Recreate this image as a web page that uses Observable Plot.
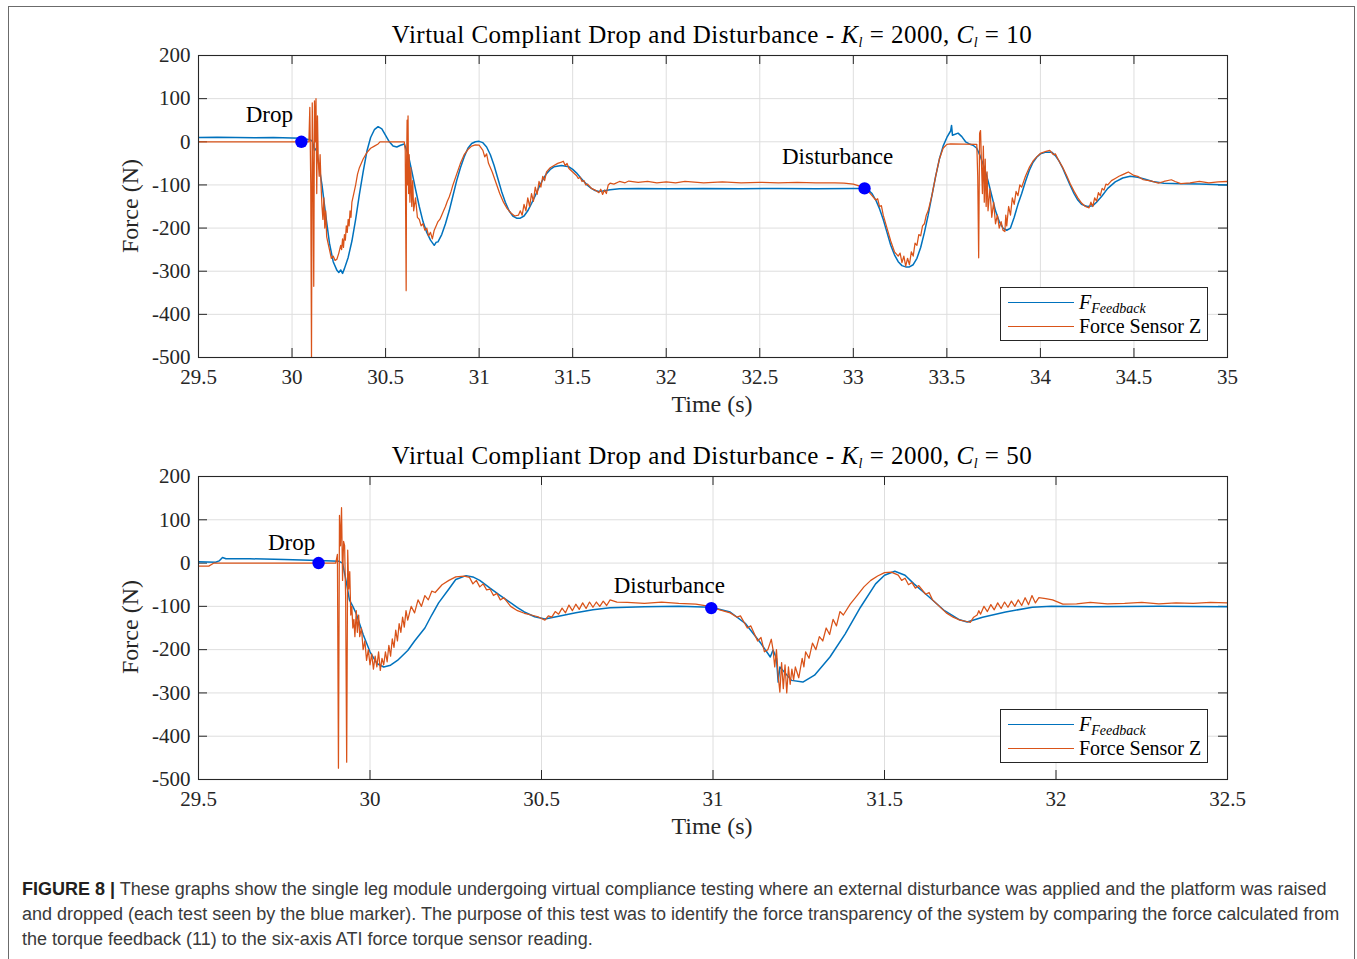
<!DOCTYPE html>
<html><head><meta charset="utf-8">
<script src="https://cdn.jsdelivr.net/npm/d3@7"></script>
<script src="https://cdn.jsdelivr.net/npm/@observablehq/plot@0.6"></script>
<style>
html,body{margin:0;padding:0;background:#fff;}
body{width:1357px;height:959px;overflow:hidden;position:relative;font-family:"Liberation Serif",serif;}
#frame{position:absolute;left:8px;top:6px;width:1347px;height:990px;border:1.5px solid #6b6b6b;box-sizing:border-box;}
.chart{position:absolute;left:0;width:1357px;height:420px;}
.chart svg{position:absolute;left:0;top:0;}
.title{position:absolute;left:0;width:1424px;text-align:center;font-size:25px;line-height:25px;color:#000;letter-spacing:0.5px;white-space:nowrap;}
.xlabel{position:absolute;left:0;width:1424px;text-align:center;font-size:24px;line-height:24px;color:#262626;white-space:nowrap;}
.ylabel{position:absolute;font-size:24px;line-height:24px;color:#262626;white-space:nowrap;transform:translate(-50%,-50%) rotate(-90deg);}
.legend{position:absolute;left:1000px;width:208px;height:54px;border:1px solid #262626;background:#fff;box-sizing:border-box;}
.legend .ln{position:absolute;left:7px;width:66px;height:0;border-top:1.3px solid;}
.legend .tx{position:absolute;left:78px;font-size:20px;line-height:20px;color:#000;white-space:nowrap;}
i{font-style:italic;}
sub{font-size:14px;vertical-align:-4px;line-height:0;}
.cap{position:absolute;left:22px;font-family:"Liberation Sans",sans-serif;font-size:18px;line-height:18px;color:#3a3a3a;white-space:nowrap;}
.cap b{color:#231f20;}
</style></head>
<body>
<div id="frame"></div>
<div class="chart" id="c1" style="top:0px"></div>
<div class="chart" id="c2" style="top:421px"></div>
<div class="cap" style="top:880px"><b>FIGURE 8 |</b> These graphs show the single leg module undergoing virtual compliance testing where an external disturbance was applied and the platform was raised</div>
<div class="cap" style="top:905px">and dropped (each test seen by the blue marker). The purpose of this test was to identify the force transparency of the system by comparing the force calculated from</div>
<div class="cap" style="top:930px">the torque feedback (11) to the six-axis ATI force torque sensor reading.</div>
<script>
// ---------- DATA ----------
const yTicks = [-500, -400, -300, -200, -100, 0, 100, 200];
const xTicksTop = [29.5, 30, 30.5, 31, 31.5, 32, 32.5, 33, 33.5, 34, 34.5, 35];
const xTicksBottom = [29.5, 30, 30.5, 31, 31.5, 32, 32.5];
const seriesNames = ["F_Feedback", "Force Sensor Z"];

// Top chart (K_l = 2000, C_l = 10): [time s, force N]
const feedbackC10 = [
[29.5,10],[29.6,10.5],[29.7,10],[29.8,9.5],[29.9,10],[30.0,9],[30.05,8],[30.08,6],[30.1,4],[30.11,0],[30.12,-20],[30.13,-15],[30.14,-45],
[30.16,-100],[30.18,-170],[30.2,-235],[30.22,-278],[30.24,-298],[30.25,-303],[30.26,-297],[30.27,-305],[30.28,-294],[30.30,-268],[30.32,-230],
[30.34,-180],[30.36,-122],[30.38,-70],[30.40,-22],[30.42,10],[30.44,28],[30.46,35],[30.48,30],[30.50,15],[30.52,0],[30.54,-10],[30.56,-12],
[30.58,-8],[30.60,-5],[30.62,-28],[30.64,-68],[30.66,-110],[30.68,-150],[30.70,-185],[30.72,-210],[30.74,-228],[30.76,-240],[30.77,-233],
[30.78,-232],[30.80,-215],[30.82,-190],[30.84,-160],[30.86,-125],[30.88,-90],[30.90,-60],[30.92,-35],[30.94,-15],[30.96,-4],[30.98,0],[31.00,1],
[31.02,-2],[31.04,-12],[31.06,-30],[31.08,-55],[31.10,-85],[31.12,-115],[31.14,-140],[31.16,-160],[31.18,-172],[31.20,-177],[31.22,-177],
[31.24,-172],[31.26,-160],[31.28,-143],[31.30,-125],[31.32,-105],[31.34,-88],[31.36,-74],[31.38,-64],[31.40,-58],[31.44,-55],[31.48,-58],
[31.50,-64],[31.52,-72],[31.54,-82],[31.56,-92],[31.58,-101],[31.60,-108],[31.62,-113],[31.64,-115],[31.66,-114],[31.70,-111],[31.75,-109],
[31.85,-108],[32.0,-109],[32.2,-108],[32.4,-109],[32.6,-108],[32.8,-109],[33.0,-108],[33.06,-108],
[33.08,-112],[33.10,-120],[33.12,-135],[33.14,-155],[33.16,-180],[33.18,-210],[33.20,-240],[33.22,-262],[33.24,-278],[33.26,-287],[33.28,-290],
[33.30,-290],[33.32,-285],[33.34,-270],[33.36,-245],[33.38,-210],[33.40,-170],[33.42,-125],[33.44,-80],[33.46,-40],[33.48,-10],[33.50,10],
[33.52,25],[33.525,38],[33.53,15],[33.56,20],[33.58,12],[33.60,0],[33.62,-5],[33.64,-8],[33.66,-15],[33.68,-35],[33.70,-60],[33.72,-90],
[33.74,-125],[33.76,-160],[33.78,-185],[33.80,-200],[33.82,-205],[33.84,-200],[33.86,-175],[33.88,-145],[33.90,-120],[33.92,-92],[33.94,-67],
[33.96,-48],[33.98,-36],[34.0,-28],[34.03,-24],[34.06,-24],[34.08,-32],[34.10,-45],[34.12,-62],[34.14,-82],[34.16,-102],[34.18,-120],
[34.20,-135],[34.22,-145],[34.25,-150],[34.28,-148],[34.30,-140],[34.33,-125],[34.36,-108],[34.40,-93],[34.44,-84],[34.48,-80],[34.52,-82],
[34.56,-87],[34.60,-92],[34.66,-96],[34.75,-97],[34.85,-98],[35.0,-100]
];
const sensorC10 = [
[29.5,0],[30.09,0],[30.095,80],[30.10,-100],[30.104,-500],[30.108,90],[30.112,-50],[30.116,-335],[30.12,95],[30.124,0],[30.128,100],
[30.132,-120],[30.136,60],[30.14,-40],[30.145,-80],[30.15,-30],[30.155,-100],[30.16,-150],[30.165,-180],[30.17,-130],[30.175,-200],[30.18,-160],
[30.185,-220],[30.19,-230],[30.20,-250],[30.21,-270],[30.22,-265],[30.23,-275],[30.24,-272],[30.25,-258],[30.26,-240],[30.265,-250],[30.27,-225],
[30.275,-245],[30.28,-215],[30.285,-228],[30.29,-195],[30.295,-210],[30.30,-180],[30.305,-195],[30.31,-160],[30.315,-175],[30.32,-140],
[30.33,-120],[30.34,-100],[30.35,-75],[30.36,-60],[30.38,-40],[30.40,-25],[30.42,-15],[30.44,-10],[30.46,-5],[30.47,0],[30.60,0],
[30.605,-20],[30.61,-345],[30.612,-60],[30.615,50],[30.618,-100],[30.62,60],[30.623,-120],[30.626,-30],[30.63,-140],[30.635,-60],[30.64,-150],
[30.645,-90],[30.65,-160],[30.66,-130],[30.67,-175],[30.68,-180],[30.69,-195],[30.70,-190],[30.71,-205],[30.72,-200],[30.73,-218],[30.74,-210],
[30.75,-225],[30.76,-205],[30.77,-195],[30.78,-185],[30.79,-180],[30.80,-170],[30.81,-160],[30.82,-150],[30.83,-138],[30.84,-128],[30.85,-115],
[30.86,-100],[30.88,-75],[30.90,-50],[30.92,-30],[30.94,-18],[30.96,-10],[30.98,-7],[31.00,-8],[31.02,-20],[31.03,-35],[31.04,-28],[31.05,-50],
[31.07,-70],[31.09,-95],[31.11,-120],[31.13,-140],[31.15,-155],[31.17,-165],[31.19,-172],[31.21,-170],[31.22,-160],[31.23,-170],[31.24,-145],
[31.25,-160],[31.26,-130],[31.27,-150],[31.28,-120],[31.29,-138],[31.30,-105],[31.31,-122],[31.32,-92],[31.33,-105],[31.34,-80],[31.35,-90],
[31.36,-70],[31.38,-60],[31.40,-55],[31.42,-50],[31.44,-47],[31.45,-45],[31.46,-55],[31.47,-50],[31.48,-62],[31.50,-70],[31.52,-78],[31.53,-85],
[31.54,-82],[31.55,-92],[31.56,-90],[31.57,-100],[31.58,-98],[31.60,-108],[31.62,-112],[31.64,-118],[31.65,-110],[31.66,-122],[31.67,-112],
[31.68,-120],[31.69,-100],[31.70,-96],[31.72,-98],[31.75,-92],[31.78,-95],[31.80,-91],[31.85,-94],[31.9,-92],[31.95,-95],[32.0,-93],[32.05,-95],
[32.1,-92],[32.2,-95],[32.3,-93],[32.4,-95],[32.5,-94],[32.6,-95],[32.7,-94],[32.8,-95],[32.9,-95],[32.95,-96],[33.0,-98],[33.03,-102],[33.06,-108],
[33.08,-115],[33.10,-125],[33.12,-135],[33.13,-132],[33.14,-150],[33.15,-148],[33.16,-170],[33.18,-200],[33.20,-230],[33.22,-255],[33.24,-265],
[33.25,-258],[33.26,-280],[33.27,-265],[33.28,-288],[33.29,-270],[33.30,-285],[33.31,-255],[33.32,-265],[33.33,-235],[33.34,-240],[33.35,-215],
[33.36,-218],[33.37,-195],[33.38,-190],[33.39,-170],[33.40,-160],[33.42,-125],[33.44,-80],[33.46,-40],[33.48,-15],[33.50,-6],[33.52,-5],
[33.66,-6],[33.665,-80],[33.67,-269],[33.675,20],[33.68,26],[33.685,-50],[33.69,-120],[33.695,-10],[33.70,-140],[33.705,-40],[33.71,-150],
[33.715,-70],[33.72,-160],[33.73,-110],[33.74,-175],[33.75,-140],[33.76,-190],[33.77,-170],[33.78,-200],[33.79,-185],[33.80,-205],[33.81,-208],
[33.815,-170],[33.82,-195],[33.83,-150],[33.84,-170],[33.85,-130],[33.86,-145],[33.87,-115],[33.88,-125],[33.89,-100],[33.90,-105],[33.92,-80],
[33.94,-60],[33.96,-45],[33.98,-35],[34.00,-27],[34.03,-22],[34.05,-20],[34.07,-30],[34.08,-28],[34.10,-45],[34.12,-60],[34.14,-78],[34.16,-98],
[34.18,-115],[34.20,-130],[34.22,-142],[34.24,-150],[34.26,-153],[34.27,-140],[34.28,-150],[34.29,-130],[34.30,-138],[34.31,-118],[34.32,-125],
[34.33,-108],[34.34,-112],[34.35,-98],[34.36,-100],[34.38,-90],[34.40,-85],[34.42,-80],[34.44,-76],[34.46,-72],[34.47,-70],[34.50,-78],
[34.52,-80],[34.55,-88],[34.58,-90],[34.60,-92],[34.63,-96],[34.66,-92],[34.70,-88],[34.72,-92],[34.75,-97],[34.80,-95],[34.85,-92],[34.9,-95],
[34.95,-93],[35.0,-92]
];
// Bottom chart (K_l = 2000, C_l = 50): [time s, force N]
const feedbackC50 = [
[29.5,3],[29.55,2],[29.56,5],[29.57,13],[29.58,10],[29.65,10],[29.75,8],[29.85,6],[29.91,4],[29.92,0],[29.93,-40],[29.94,-85],[29.95,-100],
[29.96,-117],[29.98,-165],[30.00,-205],[30.02,-232],[30.04,-240],[30.06,-236],[30.08,-225],[30.11,-202],[30.13,-180],[30.16,-150],[30.18,-120],
[30.20,-92],[30.23,-60],[30.25,-38],[30.28,-29],[30.30,-32],[30.32,-40],[30.35,-58],[30.38,-75],[30.40,-86],[30.43,-103],[30.45,-113],
[30.48,-124],[30.51,-129],[30.55,-123],[30.60,-115],[30.65,-108],[30.70,-103],[30.80,-101],[30.90,-100],[30.995,-102],
[31.05,-113],[31.095,-140],[31.14,-186],[31.167,-217],[31.175,-201],[31.185,-220],[31.19,-275],[31.195,-240],[31.229,-271],[31.262,-275],
[31.296,-259],[31.341,-217],[31.385,-164],[31.43,-102],[31.474,-48],[31.50,-28],[31.53,-19],[31.56,-28],[31.586,-48],[31.631,-79],[31.675,-110],
[31.719,-131],[31.741,-136],[31.786,-125],[31.853,-113],[31.931,-102],[31.987,-100],[32.1,-101],[32.3,-100],[32.5,-101]
];
const sensorC50 = [
[29.5,-7],[29.53,-7],[29.545,0],[29.9,0],[29.905,20],[29.908,-474],[29.911,110],[29.914,40],[29.917,128],[29.92,-40],[29.923,50],[29.926,40],
[29.929,-80],[29.932,-460],[29.935,30],[29.938,-60],[29.941,-20],[29.944,-120],[29.947,-100],[29.95,-150],[29.953,-130],[29.956,-170],[29.96,-110],
[29.963,-160],[29.967,-120],[29.97,-170],[29.975,-150],[29.98,-200],[29.985,-180],[29.99,-225],[29.995,-200],[30.0,-235],[30.005,-210],[30.01,-245],
[30.015,-215],[30.02,-240],[30.025,-205],[30.03,-248],[30.035,-220],[30.04,-235],[30.045,-205],[30.05,-228],[30.055,-190],[30.06,-215],
[30.065,-175],[30.07,-195],[30.075,-155],[30.08,-180],[30.085,-140],[30.09,-160],[30.095,-125],[30.10,-148],[30.105,-110],[30.11,-132],
[30.12,-100],[30.13,-115],[30.14,-85],[30.15,-100],[30.16,-75],[30.17,-85],[30.18,-65],[30.19,-68],[30.21,-50],[30.23,-40],[30.25,-32],
[30.275,-30],[30.29,-33],[30.30,-48],[30.31,-40],[30.32,-55],[30.33,-48],[30.34,-62],[30.35,-60],[30.36,-75],[30.37,-70],[30.38,-85],[30.39,-80],
[30.41,-100],[30.43,-110],[30.45,-116],[30.47,-120],[30.49,-124],[30.51,-132],[30.52,-122],[30.53,-125],[30.54,-112],[30.55,-118],[30.56,-104],
[30.57,-115],[30.58,-97],[30.59,-110],[30.60,-95],[30.61,-107],[30.62,-92],[30.63,-105],[30.64,-90],[30.65,-102],[30.66,-90],[30.67,-100],
[30.68,-88],[30.69,-98],[30.70,-85],[30.72,-90],[30.75,-91],[30.80,-93],[30.85,-90],[30.90,-93],[30.95,-95],[30.99,-100],
[31.02,-108],[31.05,-115],[31.07,-125],[31.08,-122],[31.10,-150],[31.11,-145],[31.13,-180],[31.14,-172],[31.15,-205],[31.16,-200],[31.17,-176],
[31.175,-200],[31.18,-240],[31.185,-200],[31.19,-260],[31.195,-298],[31.2,-230],[31.205,-290],[31.21,-235],[31.215,-300],[31.22,-240],
[31.225,-280],[31.23,-245],[31.235,-270],[31.24,-240],[31.25,-265],[31.26,-220],[31.265,-240],[31.27,-205],[31.28,-220],[31.29,-185],[31.30,-200],
[31.31,-170],[31.32,-180],[31.33,-150],[31.34,-165],[31.35,-130],[31.36,-145],[31.37,-112],[31.38,-120],[31.40,-95],[31.42,-75],[31.44,-55],
[31.46,-40],[31.48,-30],[31.50,-22],[31.52,-21],[31.54,-28],[31.55,-40],[31.56,-35],[31.57,-50],[31.58,-45],[31.59,-58],[31.60,-52],[31.62,-72],
[31.63,-68],[31.64,-85],[31.66,-100],[31.68,-115],[31.70,-125],[31.72,-132],[31.74,-135],[31.75,-137],[31.76,-125],[31.77,-120],[31.775,-110],
[31.78,-118],[31.79,-100],[31.80,-112],[31.81,-96],[31.82,-108],[31.83,-92],[31.84,-105],[31.85,-90],[31.86,-102],[31.87,-88],[31.88,-100],
[31.89,-85],[31.90,-98],[31.91,-80],[31.92,-96],[31.93,-75],[31.94,-92],[31.95,-80],[31.97,-82],[31.99,-85],[32.02,-95],[32.06,-94],[32.10,-91],
[32.15,-94],[32.20,-93],[32.25,-91],[32.30,-94],[32.35,-92],[32.40,-93],[32.45,-91],[32.5,-92]
];
// Event markers [time s, force N, label]
const eventsC10 = [[30.05, 0, "Drop"], [33.06, -108, "Disturbance"]];
const eventsC50 = [[29.85, 0, "Drop"], [30.995, -104, "Disturbance"]];

// ---------- DRAW ----------
const BLUE = "#0072BD", ORANGE = "#D95319", AX = "#262626";

function makeChart(el, {feedback, sensor, events, xTicks, mTop, mBottom, labelOffsets, titleTail, yCenter, titleTop, xLabelTop, legendTop}) {
  const W = 1357, H = 420, ml = 198, mr = 130;
  const innerW = W - ml - mr, innerH = H - mTop - mBottom, tk = 9;
  const xd = [xTicks[0], xTicks[xTicks.length - 1]];
  const marks = [
    Plot.gridX(xTicks, {stroke: "#dedede", strokeOpacity: 1, strokeWidth: 1}),
    Plot.gridY(yTicks, {stroke: "#dedede", strokeOpacity: 1, strokeWidth: 1}),
    Plot.ruleX(xTicks, {stroke: AX, insetTop: innerH - tk}),
    Plot.ruleX(xTicks, {stroke: AX, insetBottom: innerH - tk}),
    Plot.ruleY(yTicks, {stroke: AX, insetRight: innerW - tk}),
    Plot.ruleY(yTicks, {stroke: AX, insetLeft: innerW - tk}),
    Plot.line(feedback, {x: d => d[0], y: d => d[1], stroke: BLUE, strokeWidth: 1.5, clip: true}),
    Plot.line(sensor, {x: d => d[0], y: d => d[1], stroke: ORANGE, strokeWidth: 1.25, clip: true}),
    Plot.dot(events, {x: d => d[0], y: d => d[1], r: 6.2, fill: "#0000FF", stroke: "none"}),
    Plot.frame({stroke: AX, strokeWidth: 1.1}),
    Plot.axisX(xTicks, {tickSize: 0, tickPadding: 12, tickFormat: d => String(d), label: null, fontSize: 21, fill: AX}),
    Plot.axisY(yTicks, {tickSize: 0, tickPadding: 8, tickFormat: d => String(d), label: null, fontSize: 21, fill: AX})
  ];
  events.forEach((e, i) => {
    marks.push(Plot.text([e], {x: d => d[0], y: d => d[1], text: d => d[2], dx: labelOffsets[i][0], dy: labelOffsets[i][1], fontSize: 23, fill: "#000"}));
  });
  const svg = Plot.plot({
    width: W, height: H, marginLeft: ml, marginRight: mr, marginTop: mTop, marginBottom: mBottom,
    x: {domain: xd}, y: {domain: [-500, 200]},
    style: {fontFamily: "Liberation Serif, serif", background: "transparent", overflow: "visible"},
    marks
  });
  el.appendChild(svg);
  const t = document.createElement("div");
  t.className = "title"; t.style.top = titleTop + "px";
  t.innerHTML = `Virtual Compliant Drop and Disturbance - <i>K<sub><i>l</i></sub></i> = 2000, <i>C<sub><i>l</i></sub></i> = ${titleTail}`;
  el.appendChild(t);
  const xl = document.createElement("div");
  xl.className = "xlabel"; xl.style.top = xLabelTop + "px"; xl.textContent = "Time (s)";
  el.appendChild(xl);
  const yl = document.createElement("div");
  yl.className = "ylabel"; yl.style.left = "130px"; yl.style.top = yCenter + "px"; yl.textContent = "Force (N)";
  el.appendChild(yl);
  const lg = document.createElement("div");
  lg.className = "legend"; lg.style.top = legendTop + "px";
  lg.innerHTML = `<div class="ln" style="top:14px;border-color:${BLUE}"></div>
    <div class="tx" style="top:4px"><i>F<sub><i>Feedback</i></sub></i></div>
    <div class="ln" style="top:38px;border-color:${ORANGE}"></div>
    <div class="tx" style="top:28px">${seriesNames[1]}</div>`;
  el.appendChild(lg);
}

makeChart(document.getElementById("c1"), {
  feedback: feedbackC10, sensor: sensorC10, events: eventsC10, xTicks: xTicksTop,
  mTop: 55, mBottom: 63, labelOffsets: [[-32, -27], [-27, -32]], titleTail: "10",
  yCenter: 206, titleTop: 22, xLabelTop: 392, legendTop: 287
});
makeChart(document.getElementById("c2"), {
  feedback: feedbackC50, sensor: sensorC50, events: eventsC50, xTicks: xTicksBottom,
  mTop: 55, mBottom: 62, labelOffsets: [[-27, -20], [-42, -22]], titleTail: "50",
  yCenter: 206, titleTop: 22, xLabelTop: 393, legendTop: 288
});
</script>
</body></html>
